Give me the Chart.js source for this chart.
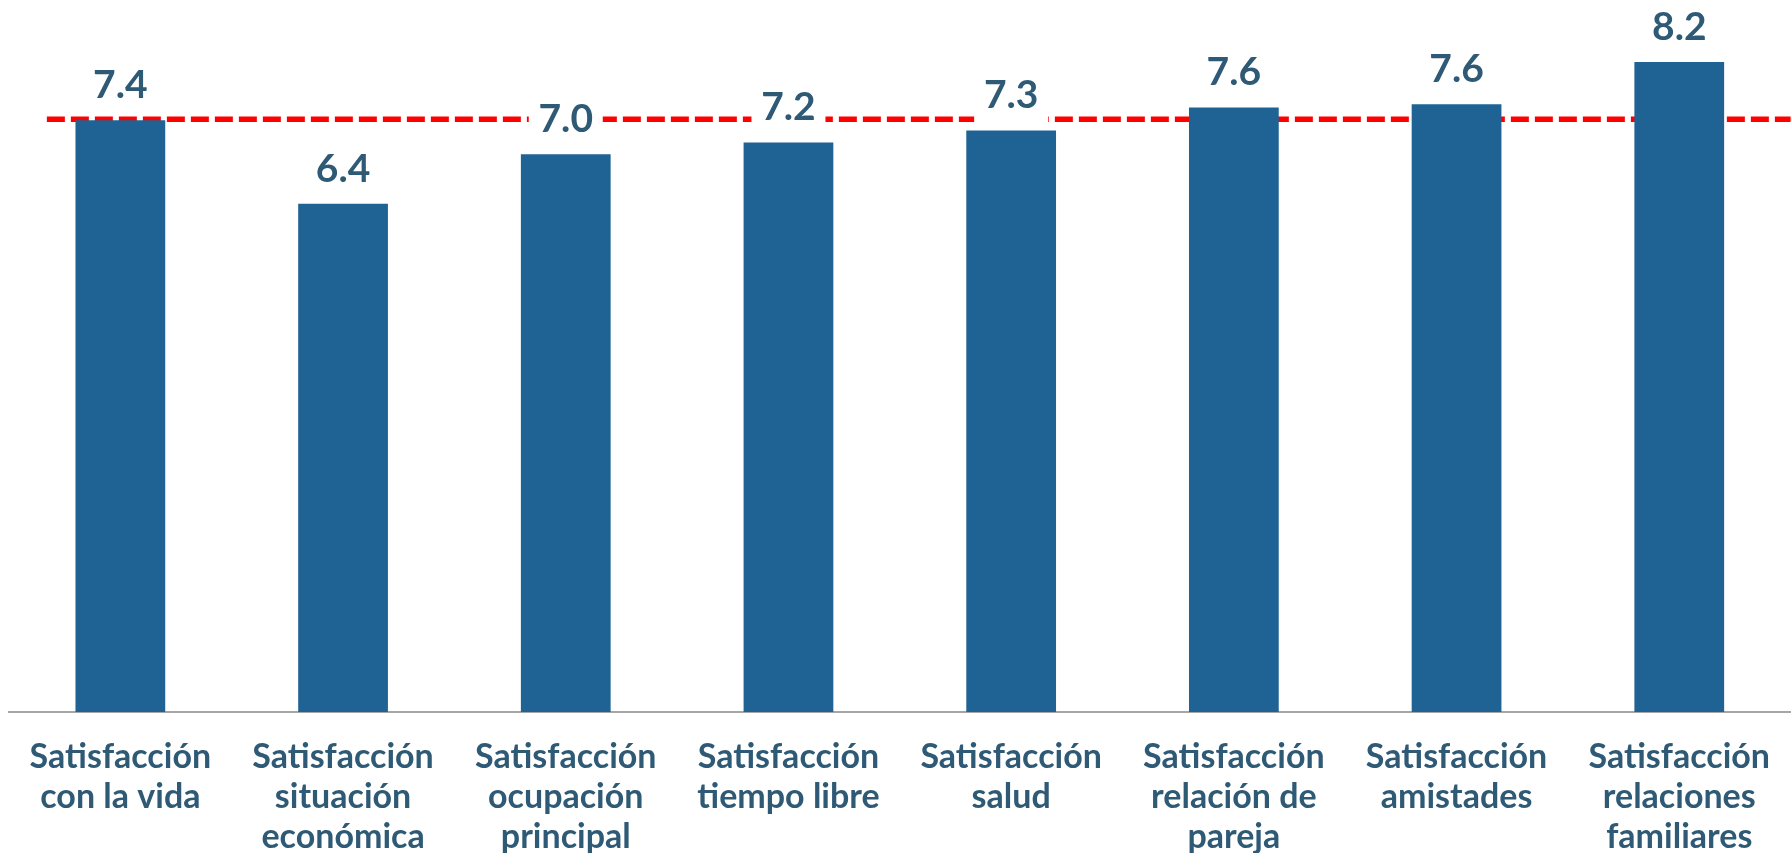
<!DOCTYPE html>
<html>
<head>
<meta charset="utf-8">
<script src="https://cdn.jsdelivr.net/npm/chart.js@4"></script>
<style>
  html, body { margin: 0; padding: 0; background: #fff; overflow: hidden; }
  #wrap { width: 1795px; height: 853px; position: relative; }
</style>
</head>
<body>
<div id="wrap"><canvas id="chart"></canvas></div>
<script>
const categories = [
  ['Satisfacción', 'con la vida'],
  ['Satisfacción', 'situación', 'económica'],
  ['Satisfacción', 'ocupación', 'principal'],
  ['Satisfacción', 'tiempo libre'],
  ['Satisfacción', 'salud'],
  ['Satisfacción', 'relación de', 'pareja'],
  ['Satisfacción', 'amistades'],
  ['Satisfacción', 'relaciones', 'familiares'],
];
const values = [7.44, 6.39, 7.01, 7.16, 7.31, 7.60, 7.64, 8.17];
const referenceValue = 7.45;

const barColor = '#1F6395';
const textColor = '#2F5A76';

// dashed reference line, drawn behind the bars
const referenceLine = {
  id: 'referenceLine',
  beforeDatasetsDraw(chart) {
    const { ctx, chartArea, scales } = chart;
    const y = scales.y.getPixelForValue(referenceValue);
    const step = scales.x.getPixelForValue(1) - scales.x.getPixelForValue(0);
    const x0 = scales.x.getPixelForValue(0) - step * 0.33;
    ctx.save();
    ctx.strokeStyle = '#FF0000';
    ctx.lineWidth = 5.5;
    ctx.setLineDash([18, 6]);
    ctx.beginPath();
    ctx.moveTo(x0, y);
    ctx.lineTo(chartArea.right, y);
    ctx.stroke();
    ctx.restore();
  }
};

// value labels with a white box behind them
const valueLabels = {
  id: 'valueLabels',
  afterDatasetsDraw(chart) {
    const { ctx } = chart;
    const meta = chart.getDatasetMeta(0);
    ctx.save();
    ctx.font = 'bold 39px Lato';
    ctx.textAlign = 'center';
    ctx.textBaseline = 'alphabetic';
    meta.data.forEach((bar, i) => {
      const base = bar.y - 22;
      ctx.fillStyle = '#ffffff';
      ctx.fillRect(bar.x - 37, base - 37, 74, 52);
      ctx.fillStyle = textColor;
      ctx.fillText(values[i].toFixed(1), bar.x, base);
    });
    ctx.restore();
  }
};

new Chart(document.getElementById('chart'), {
  type: 'bar',
  data: {
    labels: categories,
    datasets: [{
      data: values,
      backgroundColor: barColor,
      barPercentage: 0.403,
      categoryPercentage: 1,
    }],
  },
  options: {
    responsive: true,
    maintainAspectRatio: false,
    animation: false,
    layout: { padding: { left: 9, right: 0, top: 0, bottom: 0 } },
    plugins: {
      legend: { display: false },
      tooltip: { enabled: false },
    },
    scales: {
      x: {
        grid: { display: false, drawTicks: false },
        border: { display: true, color: '#A6A6A6', width: 2 },
        ticks: {
          color: textColor,
          padding: 25,
          maxRotation: 0,
          autoSkip: false,
          font: { family: 'Lato', weight: 'bold', size: 34, lineHeight: 1.18 },
        },
        afterFit(scale) { scale.height = 141; },
      },
      y: {
        display: false,
        min: 0,
        max: 8.95,
      },
    },
  },
  plugins: [referenceLine, valueLabels],
});
</script>
</body>
</html>
